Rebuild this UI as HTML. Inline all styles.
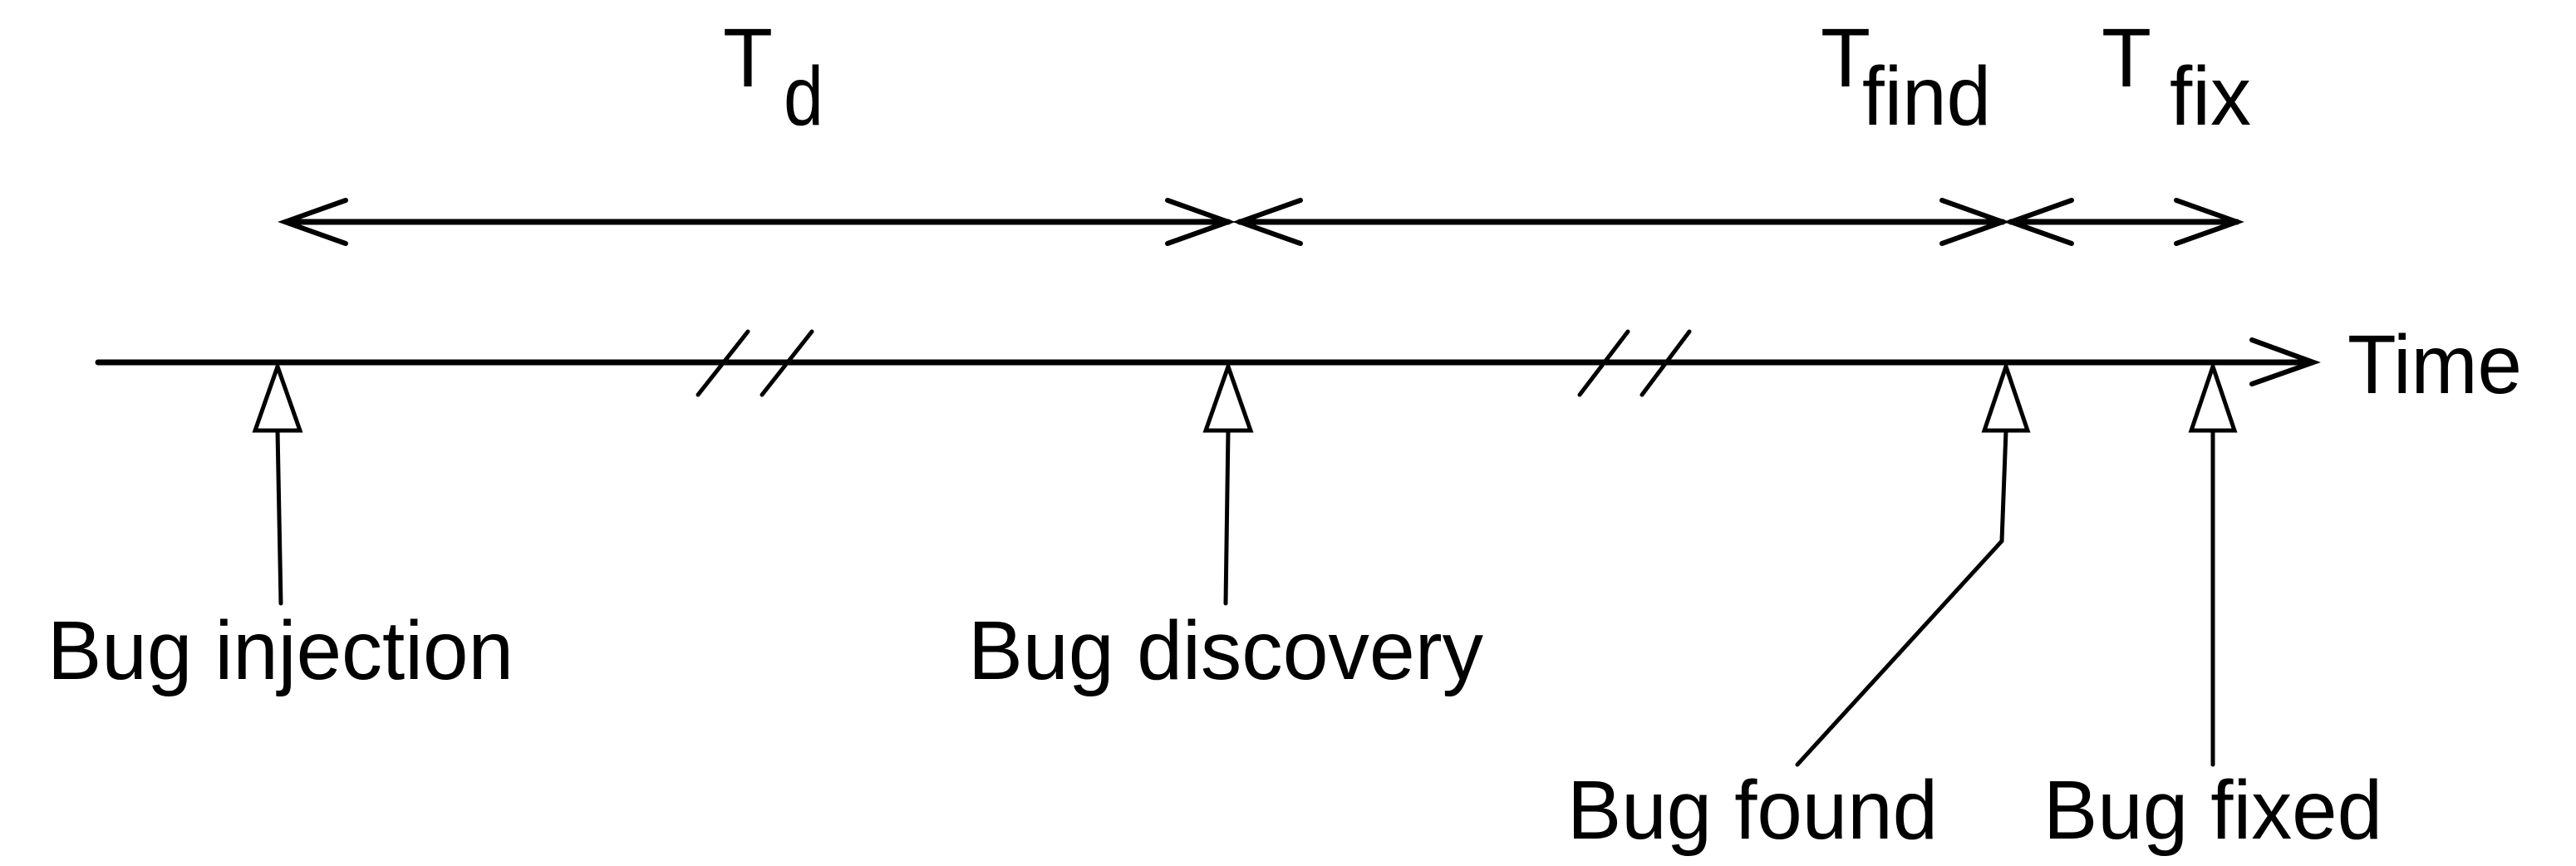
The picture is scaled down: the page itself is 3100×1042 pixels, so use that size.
<!DOCTYPE html>
<html><head><meta charset="utf-8"><style>html,body{margin:0;padding:0;background:#fff;overflow:hidden}svg{display:block}</style></head>
<body>
<svg width="3100" height="1042" viewBox="0 0 3100 1042" xmlns="http://www.w3.org/2000/svg" font-family="Liberation Sans, sans-serif" fill="#000">
<g stroke="#000" stroke-linecap="round" fill="none">
<line x1="118" y1="436" x2="2780" y2="436" stroke-width="7"/>
<polyline points="2710,409 2784,436 2710,462" stroke-width="6"/>
<line x1="345" y1="267" x2="1478" y2="267" stroke-width="7"/>
<polyline points="416,241 343,267 416,293" stroke-width="6"/>
<polyline points="1405,241 1478,267 1405,293" stroke-width="6"/>
<line x1="1492" y1="267" x2="2410" y2="267" stroke-width="7"/>
<polyline points="1565,241 1492,267 1565,293" stroke-width="6"/>
<polyline points="2337,241 2410,267 2337,293" stroke-width="6"/>
<line x1="2420" y1="267" x2="2692" y2="267" stroke-width="7"/>
<polyline points="2493,241 2420,267 2493,293" stroke-width="6"/>
<polyline points="2619,241 2692,267 2619,293" stroke-width="6"/>
<g stroke-width="5">
<line x1="840" y1="475" x2="900" y2="399"/><line x1="917" y1="475" x2="977" y2="399"/>
<line x1="1901" y1="475" x2="1959" y2="399"/><line x1="1976" y1="475" x2="2033" y2="399"/>
</g>
<g stroke-width="5" stroke-linejoin="miter">
<polygon points="334,441 307,518 361,518"/>
<polygon points="1478,441 1451,518 1505,518"/>
<polygon points="2414,441 2388,518 2440,518"/>
<polygon points="2663,441 2637,518 2689,518"/>
<line x1="334" y1="518" x2="338" y2="726"/>
<line x1="1478" y1="518" x2="1475" y2="726"/>
<polyline points="2414,518 2409,651 2163,920"/>
<line x1="2663" y1="518" x2="2663" y2="920"/>
</g>
</g>
<g font-size="100">
<text x="57" y="817" textLength="561" lengthAdjust="spacingAndGlyphs">Bug injection</text>
<text x="1165" y="817" textLength="620" lengthAdjust="spacingAndGlyphs">Bug discovery</text>
<text x="1886" y="1009" textLength="446" lengthAdjust="spacingAndGlyphs">Bug found</text>
<text x="2459" y="1009" textLength="408" lengthAdjust="spacingAndGlyphs">Bug fixed</text>
<text x="2825" y="473" textLength="210" lengthAdjust="spacingAndGlyphs">Time</text>
<text x="870" y="104" textLength="60" lengthAdjust="spacingAndGlyphs">T</text>
<text x="943" y="150" textLength="48" lengthAdjust="spacingAndGlyphs">d</text>
<text x="2191" y="104" textLength="60" lengthAdjust="spacingAndGlyphs">T</text>
<text x="2241" y="150" textLength="155" lengthAdjust="spacingAndGlyphs">find</text>
<text x="2529" y="104" textLength="60" lengthAdjust="spacingAndGlyphs">T</text>
<text x="2611" y="150" textLength="98" lengthAdjust="spacingAndGlyphs">fix</text>
</g>
</svg>
</body></html>
